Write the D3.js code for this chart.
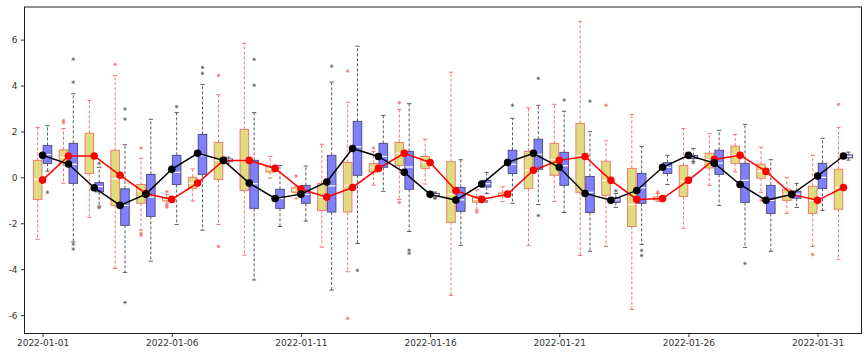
<!DOCTYPE html>
<html>
<head>
<meta charset="utf-8">
<script src="https://cdn.jsdelivr.net/npm/d3@7"></script>
<style>
  html, body { margin: 0; padding: 0; background: #fff; }
  svg { display: block; font-family: "DejaVu Sans", sans-serif; }
</style>
</head>
<body>
<svg id="chart" width="868" height="356"></svg>
<script>
// ---------- data ----------
const dates = ["2022-01-01","2022-01-02","2022-01-03","2022-01-04","2022-01-05","2022-01-06","2022-01-07","2022-01-08",
  "2022-01-09","2022-01-10","2022-01-11","2022-01-12","2022-01-13","2022-01-14","2022-01-15","2022-01-16",
  "2022-01-17","2022-01-18","2022-01-19","2022-01-20","2022-01-21","2022-01-22","2022-01-23","2022-01-24",
  "2022-01-25","2022-01-26","2022-01-27","2022-01-28","2022-01-29","2022-01-30","2022-01-31","2022-02-01"];
const xTickLabels = ["2022-01-01","2022-01-06","2022-01-11","2022-01-16","2022-01-21","2022-01-26","2022-01-31"];
const yTickValues = [-6, -4, -2, 0, 2, 4, 6];

// yellow boxes
const yellowLow  = [-2.70,-0.26,-1.74,-3.97,-2.30,-1.15,-1.03,-2.05,-3.39,-0.03,-0.93,-3.04,-4.11,-0.34,-0.96,-0.29,
                    -5.14,-1.42,-1.05,-2.96,-1.05,-3.40,-3.01,-5.75,-1.05,-2.22,-0.35, 0.24,-0.65,-1.57,-3.01,-3.57];
const yellowQ1   = [-0.96, 0.61, 0.17,-1.22,-1.13,-1.03,-0.48,-0.09,-0.57, 0.23,-0.65,-1.44,-1.51, 0.23, 0.52, 0.39,
                    -1.96,-1.08,-0.82,-0.48, 0.09,-0.65,-0.78,-2.14,-0.98,-0.83, 0.41, 0.61,-0.04,-1.00,-1.57,-1.39];
const yellowMed  = [-0.09, 0.87, 0.93,-0.06,-0.58,-0.95,-0.25, 0.74, 0.75, 0.36,-0.55,-0.86,-0.35, 0.42, 1.05, 0.64,
                    -0.74,-0.96,-0.76, 0.31, 0.78, 0.96,-0.13,-1.18,-0.92,-0.16, 0.78, 0.96, 0.26,-0.74,-1.00,-0.44];
const yellowQ3   = [ 0.74, 1.20, 1.92, 1.18,-0.31,-0.88, 0.00, 1.52, 2.09, 0.48,-0.45,-0.26, 0.65, 0.61, 1.52, 0.91,
                     0.68,-0.84,-0.68, 1.13, 1.48, 2.35, 0.70, 0.39,-0.85, 0.52, 1.05, 1.36, 0.57,-0.52,-0.39, 0.35];
const yellowHigh = [ 2.18, 2.13, 3.35, 4.43, 0.83,-0.74, 0.37, 3.60, 5.84, 0.91,-0.38, 1.44, 3.27, 1.12, 2.96, 1.66,
                     4.58,-0.55,-0.41, 3.03, 3.18, 6.80, 1.59, 2.74,-0.70, 2.13, 1.92, 1.87, 1.31, 0.00, 0.96, 2.18];
const yellowOut  = [[],[2.38,2.47],[],[4.92],[1.28,-2.44,-2.53],[-0.62,-1.22,-1.30],[],[4.44,-3.01],
                    [],[],[0.06],[],[4.63,-6.14],[1.28],[3.25,-1.09],[],
                    [],[-1.51],[],[],[],[],[3.14],[],
                    [-0.64],[],[],[],[-1.00],[],[-3.36],[3.18]];

// blue boxes
const blueLow  = [ 0.27,-2.81,-1.25,-4.14,-3.65,-2.05,-2.30, 0.62,-4.47,-2.14,-1.90,-4.91,-2.88,-0.61,-2.36,-0.88,
                  -2.96,-0.70,-1.13,-1.18,-1.53,-3.22,-1.31,-2.92,-0.31, 0.70,-1.22,-3.05,-3.22,-1.31,-1.44, 0.75];
const blueQ1   = [ 0.61,-0.26,-0.63,-2.09,-1.70,-0.31, 0.13, 0.70,-1.35,-1.35,-1.13,-1.51, 0.09, 0.44,-0.52,-0.80,
                  -1.48,-0.42, 0.17, 0.35,-0.35,-1.53,-1.09,-1.13, 0.17, 0.82, 0.13,-1.09,-1.57,-0.91,-0.48, 0.85];
const blueMed  = [ 0.99, 0.57,-0.40,-1.22,-0.86, 0.22, 0.94, 0.76,-0.28,-0.92,-0.74,-0.37, 1.33, 0.91, 0.45,-0.75,
                  -0.98,-0.28, 0.57, 1.00, 0.51,-0.65,-0.98,-0.45, 0.44, 0.88, 0.62,-0.13,-1.00,-0.73, 0.00, 0.92];
const blueQ3   = [ 1.39, 1.48,-0.23,-0.50, 0.13, 0.96, 1.87, 0.80, 0.74,-0.52,-0.35, 0.96, 2.44, 1.48, 1.13,-0.70,
                  -0.44,-0.13, 1.18, 1.66, 1.09, 0.04,-0.88, 0.17, 0.64, 0.95, 1.18, 0.61,-0.35,-0.60, 0.61, 0.98];
const blueHigh = [ 2.25, 3.64, 0.44, 1.42, 2.53, 2.82, 4.04, 0.88, 2.82, 0.52, 0.49, 4.15, 5.71, 2.70, 3.21,-0.64,
                   0.77, 0.22, 2.57, 3.14, 2.88, 1.99,-0.70, 1.35, 0.96, 1.26, 2.05, 2.31, 0.77,-0.26, 1.70, 1.10];
const blueOut  = [[-0.65],[4.15,5.15,-2.91,-3.12],[0.61,-1.32],[2.54,2.98,-5.45],[],[3.08],[4.53,4.79],[],
                  [4.01,5.14],[],[],[4.84],[-4.05],[],[-3.17,-3.31],[-0.92],
                  [],[-1.05],[3.14],[4.31,-1.66],[3.37],[3.32],[-0.58],[-3.18,-3.40],
                  [],[0.64],[],[-3.75],[],[],[],[]];

// lines
const redLine   = [-0.12, 0.93, 0.93, 0.09,-0.70,-0.96,-0.25, 0.74, 0.74, 0.39,-0.51,-0.86,-0.44, 0.39, 1.05, 0.65,
                   -0.58,-0.96,-0.73, 0.31, 0.74, 0.91,-0.13,-0.96,-0.92,-0.13, 0.78, 0.96, 0.26,-0.74,-1.00,-0.44];
const blackLine = [ 0.96, 0.58,-0.45,-1.22,-0.73, 0.35, 1.05, 0.74,-0.25,-0.92,-0.73,-0.20, 1.26, 0.91, 0.22,-0.74,
                   -0.99,-0.29, 0.65, 1.05, 0.44,-0.70,-1.00,-0.57, 0.44, 0.96, 0.62,-0.31,-1.00,-0.74, 0.06, 0.93];

// ---------- drawing ----------
const W = 868, H = 356;
const plot = { left: 24.5, right: 861.5, top: 7, bottom: 333.5 };
const DAY = 86400000;
const parse = d3.utcParse("%Y-%m-%d");
const t = dates.map(parse);

const x = d3.scaleUtc()
  .domain([new Date(+t[0] - 0.7 * DAY), new Date(+t[t.length - 1] + 0.7 * DAY)])
  .range([plot.left, plot.right]);
const y = d3.scaleLinear().domain([-6.80, 7.42]).range([plot.bottom, plot.top]);

const svg = d3.select("#chart");
const xs = (d, off) => x(new Date(+d + off * DAY));

const BOXW = 0.33, OFF = 0.19;

function asterisk(g, cx, cy, r, color) {
  const p = d3.path();
  p.moveTo(cx - r, cy); p.lineTo(cx + r, cy);
  p.moveTo(cx, cy - r); p.lineTo(cx, cy + r);
  const k = r * 0.7;
  p.moveTo(cx - k, cy - k); p.lineTo(cx + k, cy + k);
  p.moveTo(cx - k, cy + k); p.lineTo(cx + k, cy - k);
  g.append("path").attr("d", p.toString()).attr("stroke", color).attr("stroke-width", 0.8).attr("fill", "none");
}

function drawBoxes(low, q1, med, q3, high, out, off, style) {
  const g = svg.append("g");
  t.forEach((d, i) => {
    const cx = xs(d, off);
    const x0 = xs(d, off - BOXW / 2), x1 = xs(d, off + BOXW / 2);
    const capHalf = (x1 - x0) * 0.25;
    // whiskers
    g.append("line").attr("x1", cx).attr("x2", cx).attr("y1", y(q3[i])).attr("y2", y(high[i]))
      .attr("stroke", style.whisker).attr("stroke-width", 1).attr("stroke-dasharray", "3,2");
    g.append("line").attr("x1", cx).attr("x2", cx).attr("y1", y(q1[i])).attr("y2", y(low[i]))
      .attr("stroke", style.whisker).attr("stroke-width", 1).attr("stroke-dasharray", "3,2");
    // caps
    [low[i], high[i]].forEach(v => {
      g.append("line").attr("x1", cx - capHalf).attr("x2", cx + capHalf).attr("y1", y(v)).attr("y2", y(v))
        .attr("stroke", style.whisker).attr("stroke-width", 1);
    });
    // box
    g.append("rect").attr("x", x0).attr("width", x1 - x0)
      .attr("y", y(q3[i])).attr("height", Math.max(1, y(q1[i]) - y(q3[i])))
      .attr("fill", style.fill).attr("stroke", style.edge).attr("stroke-width", 1);
    // median
    g.append("line").attr("x1", x0 + 0.5).attr("x2", x1 - 0.5).attr("y1", y(med[i])).attr("y2", y(med[i]))
      .attr("stroke", "#ffffff").attr("stroke-width", 1.2);
    // outliers
    out[i].forEach(v => asterisk(g, cx, y(v), 1.8, style.flier));
  });
}

drawBoxes(yellowLow, yellowQ1, yellowMed, yellowQ3, yellowHigh, yellowOut, -OFF,
  { fill: "#dedd80", edge: "#f07c6c", whisker: "#f47474", flier: "#f47474" });
drawBoxes(blueLow, blueQ1, blueMed, blueQ3, blueHigh, blueOut, OFF,
  { fill: "#8080ff", edge: "#505080", whisker: "#5c5c5c", flier: "#6a6a6a" });

function drawLine(vals, color) {
  const g = svg.append("g");
  const line = d3.line().x((v, i) => x(t[i])).y(v => y(v));
  g.append("path").attr("d", line(vals)).attr("fill", "none").attr("stroke", color).attr("stroke-width", 1.5);
  g.selectAll("circle").data(vals).join("circle")
    .attr("cx", (v, i) => x(t[i])).attr("cy", v => y(v)).attr("r", 3.8).attr("fill", color);
}
drawLine(redLine, "#ff0000");
drawLine(blackLine, "#000000");

// frame
svg.append("rect").attr("x", plot.left).attr("y", plot.top)
  .attr("width", plot.right - plot.left).attr("height", plot.bottom - plot.top)
  .attr("fill", "none").attr("stroke", "#222").attr("stroke-width", 1);

// axes
const xAxis = d3.axisBottom(x).tickValues(xTickLabels.map(parse))
  .tickFormat(d3.utcFormat("%Y-%m-%d")).tickSize(3.5).tickPadding(3);
const gx = svg.append("g").attr("transform", `translate(0,${plot.bottom})`).call(xAxis);
gx.select(".domain").remove();
gx.selectAll("text").attr("font-size", 9).attr("fill", "#333").attr("font-family", "DejaVu Sans");
gx.selectAll("line").attr("stroke", "#333");

const yAxis = d3.axisLeft(y).tickValues(yTickValues).tickFormat(d => String(d)).tickSize(3.5).tickPadding(3.5);
const gy = svg.append("g").attr("transform", `translate(${plot.left},0)`).call(yAxis);
gy.select(".domain").remove();
gy.selectAll("text").attr("font-size", 9).attr("fill", "#333").attr("font-family", "DejaVu Sans");
gy.selectAll("line").attr("stroke", "#333");
</script>
</body>
</html>
